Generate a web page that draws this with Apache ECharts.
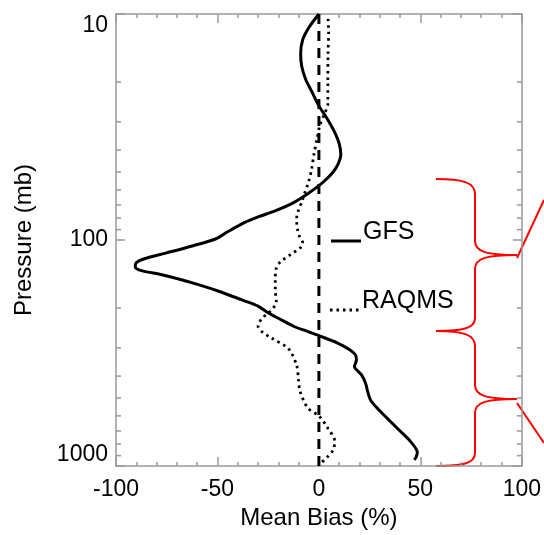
<!DOCTYPE html>
<html>
<head>
<meta charset="utf-8">
<script src="https://cdn.jsdelivr.net/npm/echarts@6/dist/echarts.min.js"></script>
<style>html,body{margin:0;padding:0;background:#fff}#c{width:544px;height:535px}</style>
</head>
<body>
<div id="c"></div>
<script>
// Mean bias (%) vs pressure (mb)
const GFS_BIAS = [0,-5,-8,-9,-8.5,-6.5,-3,0,4,7.5,10,10.8,9.5,7,3.5,0,-5,-12,-21,-30,-37,-45,-51,-62,-75,-86,-90,-90.5,-87,-78,-70,-59,-49,-38,-30,-25,-20,-12,-6,0,9,15,18,18.5,17.5,21,23,24,25.5,30,35,40,45,48.5,48,47];
const GFS_P    = [10,11.5,13,15,17,19.5,22.5,25.5,29,33,37.5,42,46,50,54,57.5,62,68,74,79,84,92,99,106,114,121,126,132,137,142,148,158,169,184,196,210,222,242,253,265,285,305,322,340,363,395,430,467,512,570,632,700,777,870,910,940];
const RAQMS_BIAS = [4.5,4.8,4.5,4.4,4.4,2.5,0.5,-1,-2.5,-3.5,-5,-7,-8.5,-10.5,-11,-10.5,-9.5,-8,-9,-14,-19,-21,-21.5,-21.5,-21,-24,-28,-30,-28,-23.5,-15,-11,-10,-9.3,-5.4,0,4.4,7.8,7,4,1];
const RAQMS_P    = [10.5,12,15,20,25,28,31,36,42,48,55,62,68,76,81,90,97,103,108,116,125,133,148,165,188,207,222,240,255,271,303,358,420,467,555,600,680,777,850,915,970];
const ZERO_BIAS = [0, 0];
const ZERO_P = [10, 1000];
const MINOR_P = [20,30,40,50,60,70,80,90,200,300,400,500,600,700,800,900];
const LEGEND_NAMES = ['GFS', 'RAQMS'];

const FONT = 'Liberation Sans';
const AX = '#999';
const RED = '#ff0000';
const DOTS = [2.5, 4];
const zip = (a, b) => a.map((v, i) => [v, b[i]]);

// red annotation braces (pixel annotations)
function bez(x1, y1, c1x, c1y, c2x, c2y, x2, y2) {
  return {type: 'bezierCurve', shape: {x1: x1, y1: y1, cpx1: c1x, cpy1: c1y, cpx2: c2x, cpy2: c2y, x2: x2, y2: y2},
    style: {stroke: RED, lineWidth: 2, fill: null}};
}
function seg(x1, y1, x2, y2, color, w, dash) {
  const s = {stroke: color || RED, lineWidth: w || 2};
  if (dash) s.lineDash = dash;
  return {type: 'line', shape: {x1: x1, y1: y1, x2: x2, y2: y2}, style: s};
}
function brace(top, tip, bottom) {
  return [
    bez(436, top, 464, top, 475, top + 4, 475, top + 15),
    seg(475, top + 15, 475, tip - 14),
    bez(475, tip - 14, 475, tip - 3, 487, tip, 517, tip),
    bez(517, tip, 487, tip, 475, tip + 3, 475, tip + 14),
    seg(475, tip + 14, 475, bottom - 13),
    bez(475, bottom - 13, 475, bottom - 3, 464, bottom, 436, bottom)
  ];
}

const chart = echarts.init(document.getElementById('c'), null, {renderer: 'canvas'});

const xCommon = {
  type: 'value', min: -100, max: 100, interval: 50,
  axisLine: {show: true, onZero: false, lineStyle: {color: AX, width: 1.5}},
  axisTick: {show: true, inside: true, length: 9, lineStyle: {color: AX, width: 1.5}},
  minorTick: {show: true, splitNumber: 5, length: 4, lineStyle: {color: AX, width: 1.5}},
  splitLine: {show: false}, minorSplitLine: {show: false}
};
const yCommon = {
  type: 'log', logBase: 10, min: 10, max: 1000, inverse: true,
  axisLine: {show: true, onZero: false, lineStyle: {color: AX, width: 1.5}},
  axisTick: {show: true, inside: true, length: 9, lineStyle: {color: AX, width: 1.5}},
  splitLine: {show: false}
};

chart.setOption({
  animation: false,
  backgroundColor: '#fff',
  grid: {left: 116, right: 20, top: 14, bottom: 67, containLabel: false},
  xAxis: [
    Object.assign({}, xCommon, {
      position: 'bottom',
      name: 'Mean Bias (%)', nameLocation: 'middle', nameGap: 40,
      nameTextStyle: {fontFamily: FONT, fontSize: 24, color: '#000'},
      axisLabel: {show: true, margin: 12, fontFamily: FONT, fontSize: 23, color: '#000'}
    }),
    Object.assign({}, xCommon, {position: 'top', axisLabel: {show: false}})
  ],
  yAxis: [
    Object.assign({}, yCommon, {
      position: 'left',
      name: 'Pressure (mb)', nameLocation: 'middle', nameGap: 80, nameRotate: 90,
      nameTextStyle: {fontFamily: FONT, fontSize: 24, color: '#000'},
      axisLabel: {show: true, margin: 8, fontFamily: FONT, fontSize: 23, color: '#000',
        formatter: function (v) { return String(Math.round(v)); },
        verticalAlignMinLabel: 'top', verticalAlignMaxLabel: 'bottom'}
    }),
    Object.assign({}, yCommon, {position: 'right', axisLabel: {show: false}})
  ],
  series: [
    {
      type: 'custom', xAxisIndex: 0, yAxisIndex: 0, silent: true,
      data: MINOR_P.map(p => [0, p]),
      renderItem: function (params, api) {
        const cs = params.coordSys;
        const y = api.coord([0, api.value(1)])[1];
        const st = {stroke: AX, lineWidth: 1.5};
        return {type: 'group', children: [
          {type: 'line', shape: {x1: cs.x, y1: y, x2: cs.x + 5, y2: y}, style: st},
          {type: 'line', shape: {x1: cs.x + cs.width - 5, y1: y, x2: cs.x + cs.width, y2: y}, style: st}
        ]};
      }
    },
    {
      name: 'zero', type: 'line', data: zip(ZERO_BIAS, ZERO_P), showSymbol: false, silent: true,
      lineStyle: {color: '#000', width: 3, type: [10, 7]}
    },
    {
      name: LEGEND_NAMES[1], type: 'line', data: zip(RAQMS_BIAS, RAQMS_P), showSymbol: false, silent: true,
      smooth: 0.3,
      lineStyle: {color: '#000', width: 2.8, type: DOTS}
    },
    {
      name: LEGEND_NAMES[0], type: 'line', data: zip(GFS_BIAS, GFS_P), showSymbol: false, silent: true,
      smooth: 0.3,
      lineStyle: {color: '#000', width: 3}
    }
  ],
  graphic: [
    seg(331, 241, 361, 241, '#000', 3),
    {type: 'text', x: 363, y: 232, style: {text: LEGEND_NAMES[0], font: '25px "Liberation Sans"', fill: '#000', verticalAlign: 'middle'}},
    seg(330, 310, 360, 310, '#000', 2.8, DOTS),
    {type: 'text', x: 362, y: 301, style: {text: LEGEND_NAMES[1], font: '25px "Liberation Sans"', fill: '#000', verticalAlign: 'middle'}}
  ].concat(brace(179, 255, 331), brace(331, 399, 466), [
    seg(517, 258, 544, 200),
    seg(517, 403, 544, 443)
  ])
});
</script>
</body>
</html>
